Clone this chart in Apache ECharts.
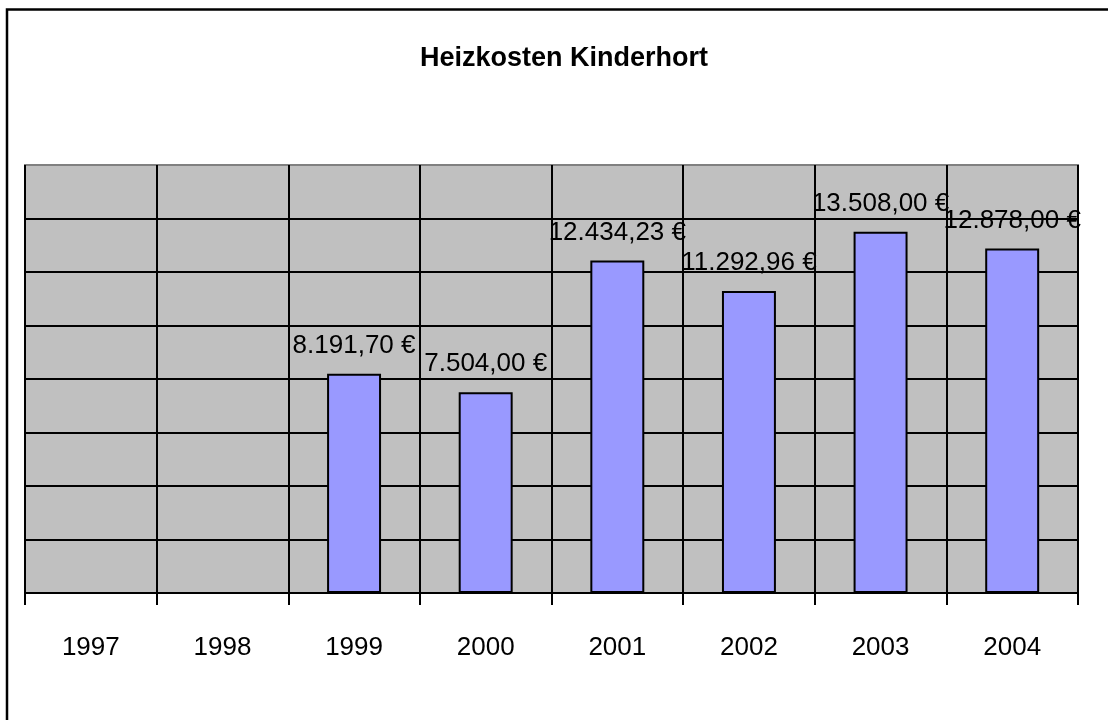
<!DOCTYPE html>
<html>
<head>
<meta charset="utf-8">
<script src="https://cdn.jsdelivr.net/npm/echarts@6/dist/echarts.min.js"></script>
<style>
  html, body { margin: 0; padding: 0; background: #fff; }
  #chart { width: 1108px; height: 720px; }
</style>
</head>
<body>
<div id="chart"></div>
<script>
const years = ["1997", "1998", "1999", "2000", "2001", "2002", "2003", "2004"];
const heizkosten = ["-", "-", 8191.70, 7504.00, 12434.23, 11292.96, 13508.00, 12878.00];
const yMax = 16000;
const yStep = 2000;

const FONT = "'Liberation Sans', Arial, sans-serif";

// 12434.23 -> "12.434,23 €"
const euro = (v) => {
  const parts = Number(v).toFixed(2).split(".");
  const int = parts[0].replace(/\B(?=(\d{3})+(?!\d))/g, ".");
  return int + "," + parts[1] + " €";
};

const gridColors = ["#000", "#000", "#000", "#000", "#000", "#000", "#000", "#000", "#808080"];

const option = {
  animation: false,
  backgroundColor: "#fff",
  title: {
    text: "Heizkosten Kinderhort",
    left: 559,
    top: 40,
    textAlign: "center",
    textStyle: {
      fontFamily: FONT,
      fontSize: 27,
      fontWeight: "bold",
      color: "#000",
    },
  },
  graphic: [
    {
      type: "rect",
      shape: { x: 7, y: 9.5, width: 1200, height: 800 },
      style: { fill: null, stroke: "#000", lineWidth: 2.5 },
      silent: true,
    },
  ],
  grid: {
    left: 25,
    right: 30,
    top: 165,
    bottom: 127,
    show: true,
    backgroundColor: "#C0C0C0",
    borderColor: "#808080",
    borderWidth: 2,
  },
  xAxis: {
    type: "category",
    data: years,
    axisLine: { lineStyle: { color: "#000", width: 2 } },
    axisTick: { show: true, length: 12, lineStyle: { color: "#000", width: 2 } },
    axisLabel: {
      fontFamily: FONT,
      fontSize: 26,
      color: "#000",
      margin: 42,
    },
    splitLine: {
      show: true,
      interval: 0,
      lineStyle: { color: "#000", width: 2 },
    },
  },
  yAxis: {
    type: "value",
    min: 0,
    max: yMax,
    interval: yStep,
    axisLine: { show: false },
    axisTick: { show: false },
    axisLabel: { show: false },
    splitLine: { lineStyle: { color: gridColors, width: 2 } },
  },
  series: [
    {
      type: "bar",
      data: heizkosten,
      barWidth: "41%",
      itemStyle: { color: "#9999FF", borderColor: "#000", borderWidth: 2 },
      label: {
        show: true,
        position: "top",
        distance: 15,
        formatter: (p) => euro(p.value),
        fontFamily: FONT,
        fontSize: 26,
        color: "#000",
      },
    },
  ],
};

const myChart = echarts.init(document.getElementById("chart"));
myChart.setOption(option);
</script>
</body>
</html>
